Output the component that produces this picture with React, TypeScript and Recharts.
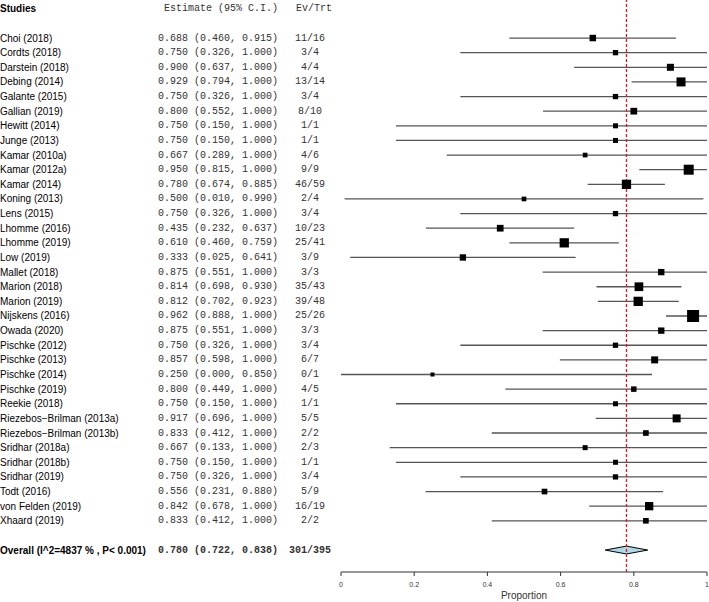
import { ComposedChart, Scatter, ErrorBar, Area, XAxis, YAxis, ZAxis, ReferenceLine } from "recharts"

const studies = [
  "Choi (2018)", "Cordts (2018)", "Darstein (2018)", "Debing (2014)", "Galante (2015)",
  "Gallian (2019)", "Hewitt (2014)", "Junge (2013)", "Kamar (2010a)", "Kamar (2012a)",
  "Kamar (2014)", "Koning (2013)", "Lens (2015)", "Lhomme (2016)", "Lhomme (2019)",
  "Low (2019)", "Mallet (2018)", "Marion (2018)", "Marion (2019)", "Nijskens (2016)",
  "Owada (2020)", "Pischke (2012)", "Pischke (2013)", "Pischke (2014)", "Pischke (2019)",
  "Reekie (2018)", "Riezebos\u2212Brilman (2013a)", "Riezebos\u2212Brilman (2013b)", "Sridhar (2018a)", "Sridhar (2018b)",
  "Sridhar (2019)", "Todt (2016)", "von Felden (2019)", "Xhaard (2019)",
]
const estimates = [
  0.688, 0.750, 0.900, 0.929, 0.750, 0.800, 0.750, 0.750, 0.667, 0.950,
  0.780, 0.500, 0.750, 0.435, 0.610, 0.333, 0.875, 0.814, 0.812, 0.962,
  0.875, 0.750, 0.857, 0.250, 0.800, 0.750, 0.917, 0.833, 0.667, 0.750,
  0.750, 0.556, 0.842, 0.833,
]
const lower = [
  0.460, 0.326, 0.637, 0.794, 0.326, 0.552, 0.150, 0.150, 0.289, 0.815,
  0.674, 0.010, 0.326, 0.232, 0.460, 0.025, 0.551, 0.698, 0.702, 0.888,
  0.551, 0.326, 0.598, 0.000, 0.449, 0.150, 0.696, 0.412, 0.133, 0.150,
  0.326, 0.231, 0.678, 0.412,
]
const upper = [
  0.915, 1.000, 1.000, 1.000, 1.000, 1.000, 1.000, 1.000, 1.000, 1.000,
  0.885, 0.990, 1.000, 0.637, 0.759, 0.641, 1.000, 0.930, 0.923, 1.000,
  1.000, 1.000, 1.000, 0.850, 1.000, 1.000, 1.000, 1.000, 1.000, 1.000,
  1.000, 0.880, 1.000, 1.000,
]
const events = [11, 3, 4, 13, 3, 8, 1, 1, 4, 9, 46, 2, 3, 10, 25, 3, 3, 35, 39, 25, 3, 3, 6, 0, 4, 1, 5, 2, 2, 1, 3, 5, 16, 2]
const totals = [16, 4, 4, 14, 4, 10, 1, 1, 6, 9, 59, 4, 4, 23, 41, 9, 3, 43, 48, 26, 3, 4, 7, 1, 5, 1, 5, 2, 3, 1, 4, 9, 19, 2]
// relative study weights (marker area)
const weights = [
  42, 28, 49, 81, 28, 45, 25, 25, 22, 100,
  86, 22, 28, 45, 86, 40, 40, 76, 86, 144,
  40, 28, 49, 16, 30, 25, 64, 32, 25, 25,
  28, 32, 69, 32,
]

const overallLabel = "Overall (I^2=4837 % , P< 0.001)"
const overallEst = 0.780
const overallLower = 0.722
const overallUpper = 0.838
const overallEvents = 301
const overallTotals = 395

const xTicks = [0, 0.2, 0.4, 0.6, 0.8, 1]

const HEADER_ROW = -2
const OVERALL_ROW = studies.length + 1

const sans = "'Liberation Sans', Arial, sans-serif"
const mono = "'Liberation Mono', 'Courier New', monospace"

const fmtCI = (e: number, l: number, u: number) => `${e.toFixed(3)} (${l.toFixed(3)}, ${u.toFixed(3)})`

const points = studies.map((name, i) => ({
  name,
  x: estimates[i],
  y: i,
  w: weights[i],
  err: [estimates[i] - lower[i], upper[i] - estimates[i]],
}))

const diamondHalf = 0.27
const diamond = [
  { x: overallLower, band: [OVERALL_ROW, OVERALL_ROW] },
  { x: overallEst, band: [OVERALL_ROW - diamondHalf, OVERALL_ROW + diamondHalf] },
  { x: overallUpper, band: [OVERALL_ROW, OVERALL_ROW] },
]

const rowTicks = [HEADER_ROW, ...studies.map((_, i) => i), OVERALL_ROW]

function RowTick(props: any) {
  const { y, payload } = props
  const v = payload.value
  if (v === HEADER_ROW) {
    return (
      <g>
        <text x={0} y={y} dominantBaseline="central" fontFamily={sans} fontSize={10} fontWeight="bold" fill="#000">Studies</text>
        <text x={278} y={y} dominantBaseline="central" textAnchor="end" fontFamily={mono} fontSize={10} fill="#333">Estimate (95% C.I.)</text>
        <text x={296} y={y} dominantBaseline="central" fontFamily={mono} fontSize={10} fill="#333">Ev/Trt</text>
      </g>
    )
  }
  if (v === OVERALL_ROW) {
    return (
      <g>
        <text x={0} y={y} dominantBaseline="central" fontFamily={sans} fontSize={10} fontWeight="bold" fill="#000">{overallLabel}</text>
        <text x={278} y={y} dominantBaseline="central" textAnchor="end" fontFamily={mono} fontSize={10} fontWeight="bold" fill="#333">{fmtCI(overallEst, overallLower, overallUpper)}</text>
        <text x={310} y={y} dominantBaseline="central" textAnchor="middle" fontFamily={mono} fontSize={10} fontWeight="bold" fill="#333">{`${overallEvents}/${overallTotals}`}</text>
      </g>
    )
  }
  const i = v as number
  if (i < 0 || i >= studies.length) return null
  return (
    <g>
      <text x={0} y={y} dominantBaseline="central" fontFamily={sans} fontSize={10} fill="#000">{studies[i]}</text>
      <text x={278} y={y} dominantBaseline="central" textAnchor="end" fontFamily={mono} fontSize={10} fill="#333">{fmtCI(estimates[i], lower[i], upper[i])}</text>
      <text x={310} y={y} dominantBaseline="central" textAnchor="middle" fontFamily={mono} fontSize={10} fill="#333">{`${events[i]}/${totals[i]}`}</text>
    </g>
  )
}

function Square(props: any) {
  const s = Math.sqrt(props.size ?? 25)
  return <rect x={props.cx - s / 2} y={props.cy - s / 2} width={s} height={s} fill="#000" />
}

export default function App() {
  return (
    <div style={{ position: "absolute", left: 0, top: 0, background: "#fff" }}>
      <ComposedChart width={709} height={602} margin={{ top: 0, right: 2, bottom: 0, left: 0 }}>
        <XAxis
          type="number"
          dataKey="x"
          domain={[0, 1]}
          ticks={xTicks}
          tickFormatter={(v: number) => String(v)}
          tick={{ fontSize: 7, fill: "#333", fontFamily: sans }}
          tickSize={4}
          tickMargin={6}
          stroke="#333"
          height={30}
          allowDataOverflow
          label={{ value: "Proportion", position: "insideBottom", offset: 3, fontSize: 10, fill: "#333", fontFamily: sans }}
        />
        <YAxis
          type="number"
          dataKey="y"
          domain={[-2.6, 36.5]}
          reversed
          ticks={rowTicks}
          interval={0}
          tick={<RowTick />}
          axisLine={false}
          tickLine={false}
          width={341}
          allowDataOverflow
        />
        <ZAxis type="number" dataKey="w" domain={[0, 144]} range={[0, 144]} />
        <Scatter data={points} shape={<Square />} isAnimationActive={false}>
          <ErrorBar dataKey="err" direction="x" width={0} stroke="#555" strokeWidth={1.3} isAnimationActive={false} />
        </Scatter>
        <Area
          data={diamond}
          dataKey="band"
          type="linear"
          fill="#add8e6"
          fillOpacity={1}
          stroke="#000"
          strokeWidth={1}
          isAnimationActive={false}
          dot={false}
          activeDot={false}
        />
        <ReferenceLine x={overallEst} stroke="#e8141c" strokeDasharray="3 2" strokeWidth={1.3} />
      </ComposedChart>
    </div>
  )
}
